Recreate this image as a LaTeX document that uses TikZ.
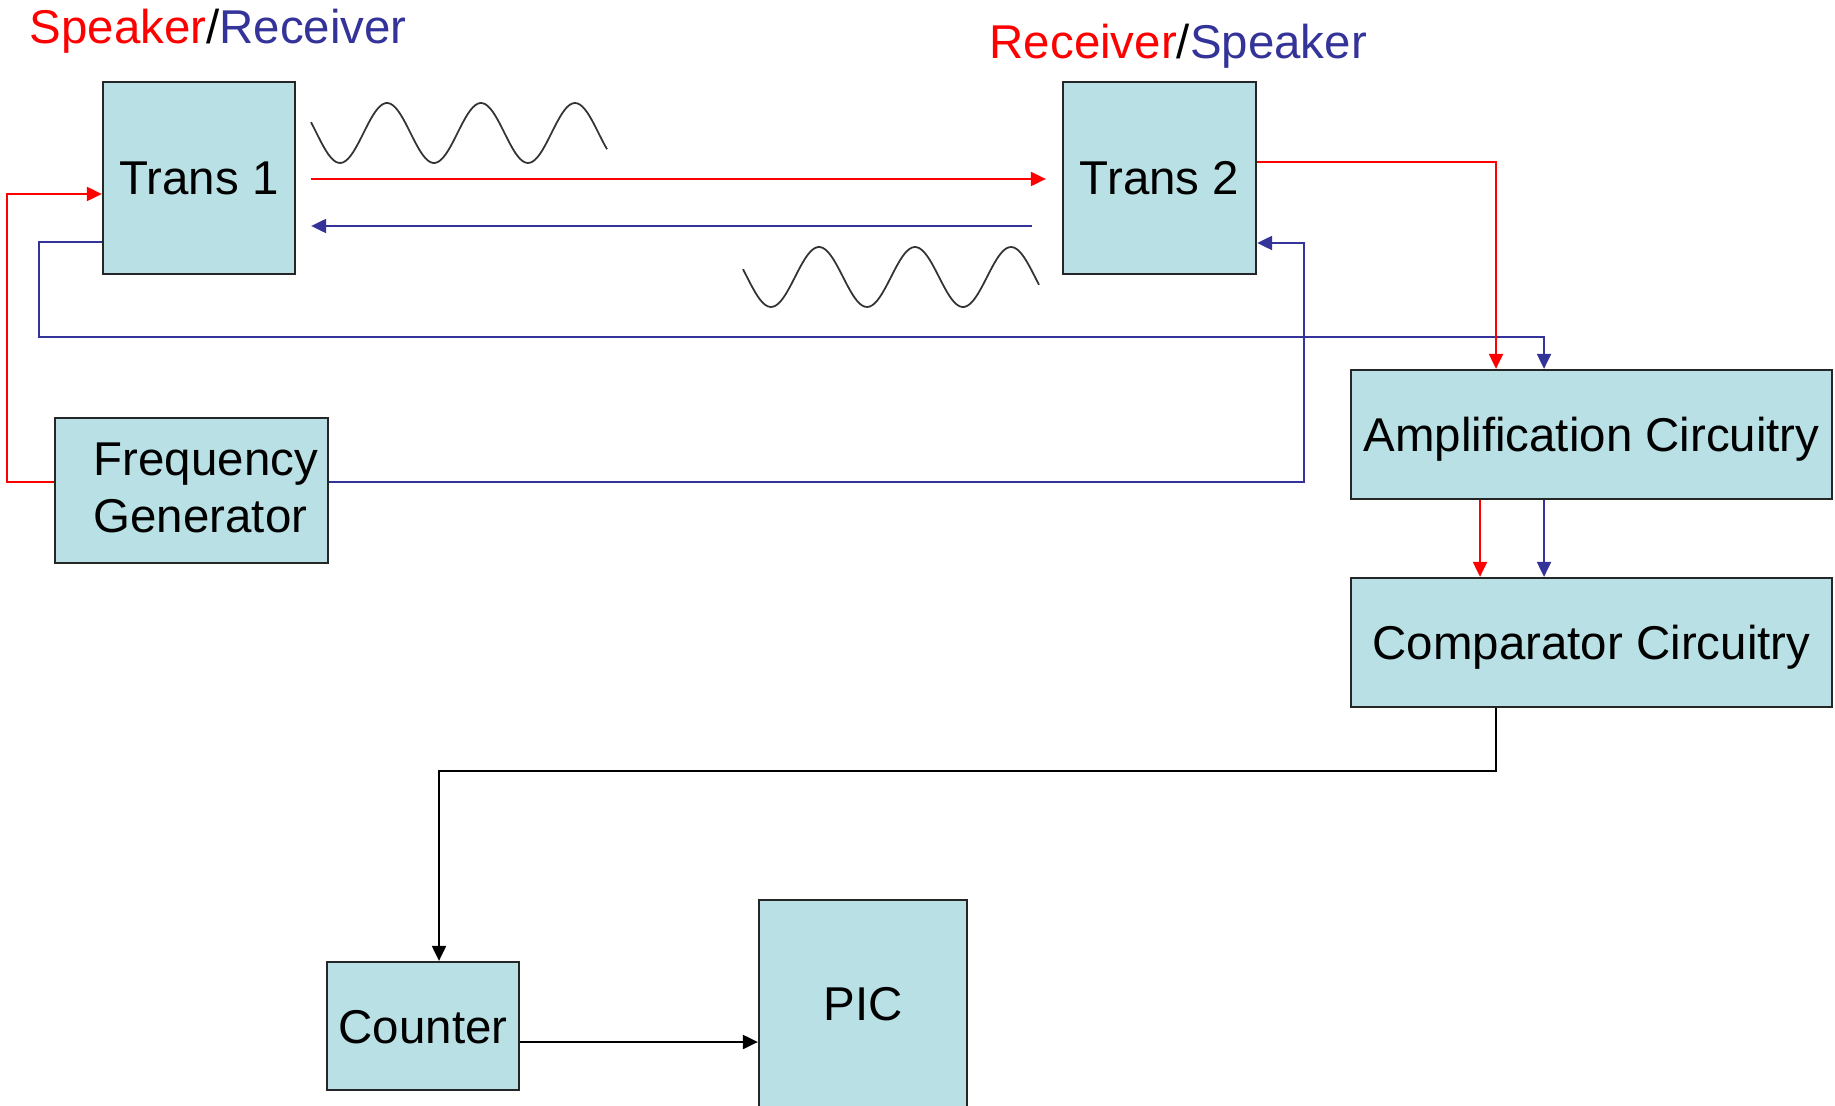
\documentclass[tikz,border=0pt]{standalone}
\usepackage{fontspec}
\setmainfont{Liberation Sans}
\usetikzlibrary{arrows.meta,calc}
\definecolor{boxfill}{RGB}{185,224,228}
\definecolor{pblue}{RGB}{51,51,153}
\definecolor{pred}{RGB}{255,0,0}
\begin{document}
\begin{tikzpicture}[x=0.1mm,y=-0.1mm,
  box/.style={draw=black!85,line width=0.65pt,fill=boxfill,inner sep=0pt,
    font=\fontsize{13.5pt}{16pt}\selectfont,text height=3.4mm,text depth=0pt},
  lbl/.style={inner sep=0pt,font=\fontsize{13.5pt}{16pt}\selectfont},
  tip/.style={-{Triangle[length=1.5mm,width=1.4mm]}},
  redline/.style={draw=pred,line width=0.6pt},
  blueline/.style={draw=pblue,line width=0.6pt},
  blackline/.style={draw=black,line width=0.6pt},
  wave/.style={draw=black!80,line width=0.5pt}]
\useasboundingbox (0,0) rectangle (1835,1105);

% boxes
\node[box,minimum width=19.2mm,minimum height=19.2mm] (t1) at (199,178) {Trans 1};
\node[box,minimum width=19.3mm,minimum height=19.2mm] (t2) at (1159.5,178) {Trans 2};
\node[box,minimum width=27.3mm,minimum height=14.5mm] (fg) at (191.5,490.5) {};
\node[lbl,anchor=base west] (fgt1) at (93,475) {Frequency};
\node[lbl,anchor=base west] (fgt2) at (93,532) {Generator};
\node[box,minimum width=48.1mm,minimum height=12.9mm] (amp) at (1591.5,434.5) {Amplification Circuitry};
\node[box,minimum width=48.1mm,minimum height=12.9mm] (comp) at (1591.5,642.5) {Comparator Circuitry};
\node[box,minimum width=19.2mm,minimum height=12.8mm] (counter) at (423,1026) {Counter};
\node[box,minimum width=20.8mm,minimum height=25mm,anchor=north] (pic) at (863,899) {};
\node[lbl,anchor=base] (pict) at (863.5,1020) {PIC};

% titles
\node[lbl,anchor=base west] (lab1) at (29,44) {\textcolor{pred}{Speaker}/\textcolor{pblue}{Receiver}};
\node[lbl,anchor=base west] (lab2) at (989,59) {\textcolor{pred}{Receiver}/\textcolor{pblue}{Speaker}};

% waves
\draw[wave] plot[domain=311:607,samples=120] (\x,{133+30*cos(3.8298*(\x-340))});
\draw[wave] plot[domain=743:1039,samples=120] (\x,{277+30*cos(3.75*(\x-771))});

% connectors
\draw[redline,tip] ($(t1.east)+(15,1)$) -- ($(t2.west)+(-16,1)$);
\draw[blueline,tip] ($(t2.west)+(-30,48)$) -- ($(t1.east)+(15,48)$);
\draw[redline,tip] ($(fg.west)+(0,-8.5)$) -- ++(-47,0) |- ($(t1.west)+(0,16)$);
\draw[blueline,tip] ($(t1.west)+(0,64)$) -- ++(-63,0) |- ($(amp.north)+(-47.5,-32)$) -- ($(amp.north)+(-47.5,0)$);
\draw[blueline,tip] ($(fg.east)+(0,-8.5)$) -- ++(975,0) |- ($(t2.east)+(0,65)$);
\draw[redline,tip] ($(t2.east)+(0,-16)$) -| ($(amp.north)+(-95.5,0)$);
\draw[redline,tip] ($(amp.south)+(-111.5,0)$) -- ($(comp.north)+(-111.5,0)$);
\draw[blueline,tip] ($(amp.south)+(-47.5,0)$) -- ($(comp.north)+(-47.5,0)$);
\draw[blackline,tip] ($(comp.south)+(-95.5,0)$) -- ++(0,63) -| ($(counter.north)+(16,0)$);
\coordinate (c1) at ($(counter.east)+(0,16)$);
\draw[blackline,tip] (c1) -- (c1 -| pic.west);
\end{tikzpicture}
\end{document}
